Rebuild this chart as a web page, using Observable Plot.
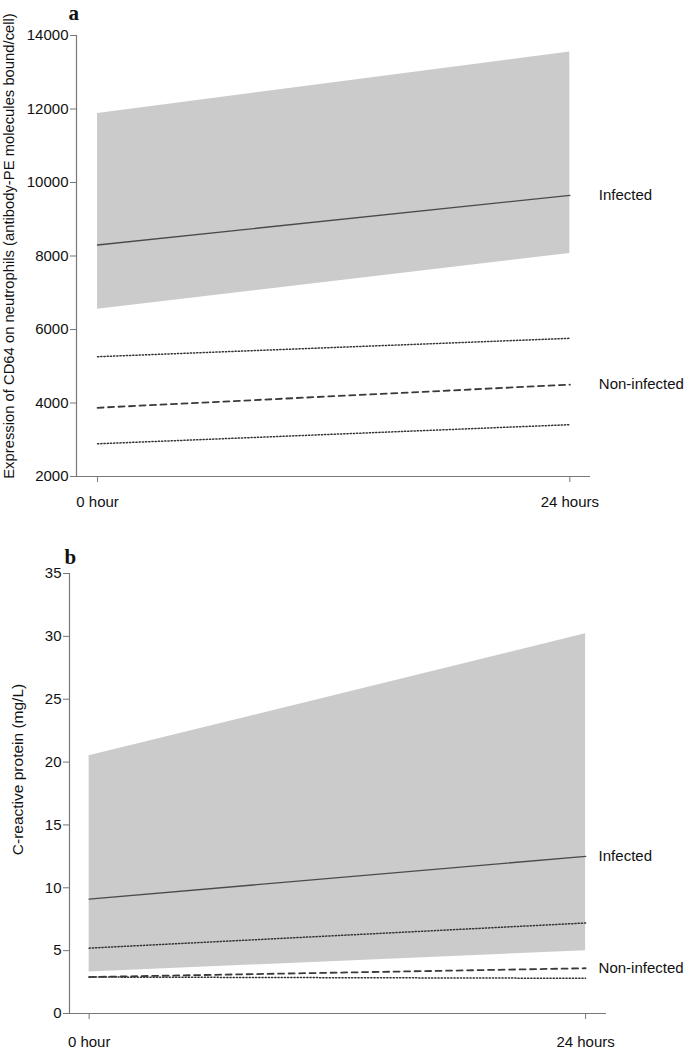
<!DOCTYPE html>
<html><head><meta charset="utf-8">
<script src="https://cdn.jsdelivr.net/npm/d3@7"></script>
<script src="https://cdn.jsdelivr.net/npm/@observablehq/plot@0.6"></script>
<style>body{margin:0;background:#fff;} #chart svg{display:block;}</style>
</head><body><div id="chart"></div><script>
const hours = [0, 24];
const xTickLabels = ["0 hour", "24 hours"];
const seriesLabels = ["Infected", "Non-infected"];

// Panel a: CD64 expression
const cd64Ticks = [2000, 4000, 6000, 8000, 10000, 12000, 14000];
const cd64InfectedMean = [8300, 9650];
const cd64InfectedLower = [6550, 8070];
const cd64InfectedUpper = [11880, 13550];
const cd64NonInfectedMean = [3870, 4500];
const cd64NonInfectedLower = [2890, 3410];
const cd64NonInfectedUpper = [5260, 5760];

// Panel b: C-reactive protein
const crpTicks = [0, 5, 10, 15, 20, 25, 30, 35];
const crpInfectedMean = [9.1, 12.5];
const crpInfectedLower = [3.3, 5.0];
const crpInfectedUpper = [20.5, 30.2];
const crpNonInfectedMean = [2.9, 3.6];
const crpNonInfectedLower = [2.9, 2.8];
const crpNonInfectedUpper = [5.2, 7.2];

function panel(o) {
  const rows = hours.map((h, i) => ({
    hour: h, mean: o.mean[i], lower: o.lower[i], upper: o.upper[i],
    nMean: o.nMean[i], nLower: o.nLower[i], nUpper: o.nUpper[i]
  }));
  const last = rows[rows.length - 1];
  const lbls = [
    {hour: last.hour, value: last.mean, text: seriesLabels[0]},
    {hour: last.hour, value: last.nMean, text: seriesLabels[1]}
  ];
  const dotted = {stroke: "#333", strokeWidth: 1.5, strokeDasharray: "1.2,2"};
  const svg = Plot.plot({
    width: 685, height: o.height,
    marginTop: o.mt, marginBottom: o.mb, marginLeft: o.ml, marginRight: o.mr,
    style: {fontFamily: "'Liberation Sans', Arial, sans-serif", fontSize: "15px", color: "#111", background: "#fff"},
    x: {domain: o.xDomain, type: "linear"},
    y: {domain: [o.yTicks[0], o.yTicks[o.yTicks.length - 1]]},
    marks: [
      Plot.areaY(rows, {x: "hour", y1: "lower", y2: "upper", fill: "#cbcbcb"}),
      Plot.lineY(rows, {x: "hour", y: "mean", stroke: "#4a4a4a", strokeWidth: 1.4}),
      Plot.lineY(rows, {x: "hour", y: "nUpper", ...dotted}),
      Plot.lineY(rows, {x: "hour", y: "nLower", ...dotted}),
      Plot.lineY(rows, {x: "hour", y: "nMean", stroke: "#3a3a3a", strokeWidth: 1.8, strokeDasharray: "6,4.5"}),
      Plot.ruleY([o.yTicks[0]], {stroke: "#777", strokeWidth: 1.2}),
      Plot.ruleX([o.xDomain[0]], {y1: o.yTicks[0], y2: o.yTicks[o.yTicks.length - 1], stroke: "#777", strokeWidth: 1.2}),
      Plot.axisX({ticks: hours, tickFormat: d => xTickLabels[hours.indexOf(d)], tickSize: 6, tickPadding: o.xPad, stroke: "#777", fill: "#111", label: null, fontSize: 15}),
      Plot.axisY({ticks: o.yTicks, tickFormat: d3.format("d"), tickSize: 6, tickPadding: 2, stroke: "#777", fill: "#111",
        label: o.yLabel, labelAnchor: "center", labelArrow: "none", labelOffset: o.labelOffset, fontSize: 15}),
      Plot.text(lbls, {x: "hour", y: "value", text: "text", textAnchor: "start", dx: o.labelDx, fill: "#111", fontSize: 15}),
      Plot.text([o.letter], {frameAnchor: "top-left", text: d => d, textAnchor: "start", lineAnchor: "bottom",
        dx: o.letterDx, dy: o.letterDy, fontFamily: "'Liberation Serif', 'Times New Roman', serif", fontWeight: "bold", fontSize: 21, fill: "#111"})
    ]
  });
  const g = svg.querySelector('g[aria-label="y-axis label"]');
  if (g) {
    const ex = g.getAttribute("transform") || "";
    g.setAttribute("transform", `translate(0,${o.labelShift}) ${ex}`);
    g.setAttribute("font-size", o.labelSize);
    g.querySelectorAll("text").forEach(t => t.setAttribute("font-size", o.labelSize));
  }
  return svg;
}

const chart = document.getElementById("chart");
chart.appendChild(panel({
  height: 520, mt: 35, mb: 44, ml: 76, mr: 95,
  xDomain: [-1.07, 25.05], yTicks: cd64Ticks,
  mean: cd64InfectedMean, lower: cd64InfectedLower, upper: cd64InfectedUpper,
  nMean: cd64NonInfectedMean, nLower: cd64NonInfectedLower, nUpper: cd64NonInfectedUpper,
  yLabel: "Expression of CD64 on neutrophils (antibody-PE molecules bound/cell)",
  labelOffset: 73, labelShift: -10, labelSize: 14.8, xPad: 14, labelDx: 29,
  letter: "a", letterDx: -8, letterDy: -16
}));
chart.appendChild(panel({
  height: 534, mt: 53, mb: 41, ml: 69, mr: 79,
  xDomain: [-0.95, 25.01], yTicks: crpTicks,
  mean: crpInfectedMean, lower: crpInfectedLower, upper: crpInfectedUpper,
  nMean: crpNonInfectedMean, nLower: crpNonInfectedLower, nUpper: crpNonInfectedUpper,
  yLabel: "C-reactive protein (mg/L)",
  labelOffset: 58, labelShift: -24, labelSize: 15.5, xPad: 17, labelDx: 13,
  letter: "b", letterDx: -5, letterDy: -10
}));
</script></body></html>
